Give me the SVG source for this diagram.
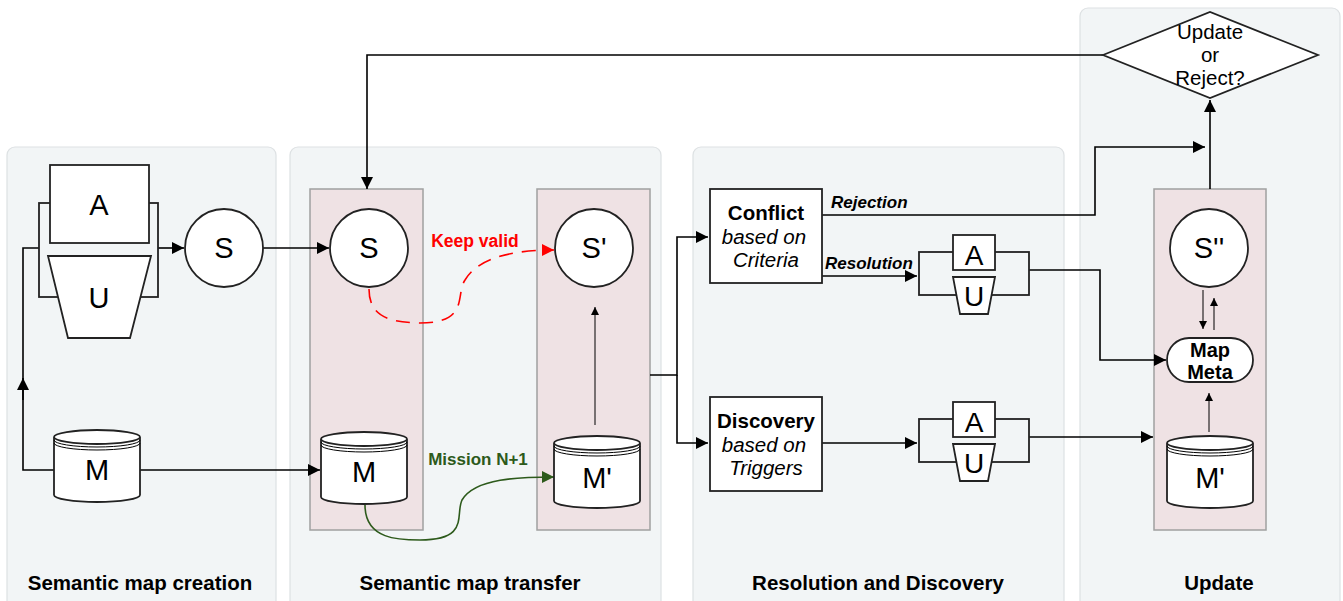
<svg xmlns="http://www.w3.org/2000/svg" width="1343" height="601" viewBox="0 0 1343 601">
<style>
.panel{fill:#f2f5f6;stroke:#dde1e3;stroke-width:1.2}
.pink{fill:#efe2e4;stroke:#a0a0a0;stroke-width:1.5}
.sh{fill:#fff;stroke:#222;stroke-width:1.8}
.ln{fill:none;stroke:#000;stroke-width:1.6}
.thin{fill:none;stroke:#000;stroke-width:1}
text{font-family:"Liberation Sans",Arial,sans-serif}
.big{font-size:29px;text-anchor:middle}
.title{font-size:20.5px;font-weight:bold;text-anchor:middle}
.box{font-size:20.5px;text-anchor:middle}
.lbl{font-size:17px;font-weight:bold;font-style:italic}
</style>
<defs>
<marker id="ar" viewBox="0 0 10 10" refX="10" refY="5" markerWidth="12" markerHeight="12" markerUnits="userSpaceOnUse" orient="auto"><path d="M0,0L10,5L0,10z" fill="#000"/></marker>
<marker id="ars" viewBox="0 0 10 10" refX="10" refY="5" markerWidth="8" markerHeight="8" markerUnits="userSpaceOnUse" orient="auto"><path d="M0,0L10,5L0,10z" fill="#000"/></marker>
<marker id="arr" viewBox="0 0 10 10" refX="10" refY="5" markerWidth="12" markerHeight="12" markerUnits="userSpaceOnUse" orient="auto"><path d="M0,0L10,5L0,10z" fill="#ff0000"/></marker>
<marker id="arg" viewBox="0 0 10 10" refX="10" refY="5" markerWidth="12" markerHeight="12" markerUnits="userSpaceOnUse" orient="auto"><path d="M0,0L10,5L0,10z" fill="#2d5a1b"/></marker>
</defs>

<g id="panels">
<rect class="panel" x="7" y="147" width="269" height="470" rx="8"/>
<rect class="panel" x="290" y="147" width="371" height="470" rx="8"/>
<rect class="panel" x="693" y="147" width="371" height="470" rx="8"/>
<rect class="panel" x="1080" y="8" width="260" height="610" rx="8"/>
<text class="title" x="140" y="590">Semantic map creation</text>
<text class="title" x="470" y="590">Semantic map transfer</text>
<text class="title" x="878" y="590">Resolution and Discovery</text>
<text class="title" x="1219" y="590">Update</text>
</g>

<g id="pinkRects">
<rect class="pink" x="310" y="189" width="113" height="341"/>
<rect class="pink" x="537" y="189" width="113" height="341"/>
<rect class="pink" x="1154" y="189" width="112" height="341"/>
</g>

<g id="connectors">
<path class="ln" d="M39,248H23V470H54"/>
<path class="ln" d="M23,400V378" marker-end="url(#ar)"/>
<path class="ln" d="M158,248H184" marker-end="url(#ar)"/>
<path class="ln" d="M263,248H329" marker-end="url(#ar)"/>
<path class="ln" d="M140,470H320" marker-end="url(#ar)"/>
<path class="ln" d="M1103,55H367V189" marker-end="url(#ar)"/>
<path d="M369,289C369,320 395,322 420,323C470,323 455,295 465,280C480,255 520,250 554,250" fill="none" stroke="#ff0000" stroke-width="1.6" stroke-dasharray="14,9" marker-end="url(#arr)"/>
<path d="M365,505C365,540 400,540 420,540C470,540 455,515 462,500C475,478 520,477 554,477" fill="none" stroke="#2d5a1b" stroke-width="1.6" marker-end="url(#arg)"/>
<path class="thin" d="M595,425V307" marker-end="url(#ars)"/>
<path class="ln" d="M650,375H677V237H708" marker-end="url(#ar)"/>
<path class="ln" d="M677,375V443H708" marker-end="url(#ar)"/>
<path class="ln" d="M822,215H1095V147H1205" marker-end="url(#ar)"/>
<path class="ln" d="M822,276H917" marker-end="url(#ar)"/>
<path class="ln" d="M822,443H917" marker-end="url(#ar)"/>
<path class="ln" d="M1029,270H1100V360H1166" marker-end="url(#ar)"/>
<path class="ln" d="M1029,437H1153" marker-end="url(#ar)"/>
<path class="ln" d="M1210,189V100" marker-end="url(#ar)"/>
<path class="thin" d="M1203,290V329" marker-end="url(#ars)"/>
<path class="thin" d="M1214,330V298" marker-end="url(#ars)"/>
<path class="thin" d="M1209,432V393" marker-end="url(#ars)"/>
<text x="475" y="247" font-size="17.5" font-weight="bold" fill="#ff0000" text-anchor="middle">Keep valid</text>
<text x="478" y="465" font-size="17" font-weight="bold" fill="#2d5a1b" text-anchor="middle">Mission N+1</text>
<text class="lbl" x="831" y="208">Rejection</text>
<text class="lbl" x="825" y="269">Resolution</text>
</g>

<g id="AU1">
<rect x="39" y="203" width="119" height="94" style="fill:none;stroke:#222;stroke-width:1.8"/>
<rect class="sh" x="50" y="165" width="99" height="78"/>
<text class="big" x="99" y="215">A</text>
<path class="sh" d="M48,256H151L130,338H68Z"/>
<text class="big" x="99" y="308">U</text>
</g>

<g id="S1"><circle class="sh" cx="224" cy="248" r="39"/><text class="big" x="224" y="258">S</text></g>

<g id="M1">
<path class="sh" d="M54,437V495A43,7 0 0 0 140,495V437A43,7 0 0 0 54,437A43,7 0 0 0 140,437"/>
<path class="thin" d="M54,440A43,7 0 0 0 140,440M54,443A43,7 0 0 0 140,443"/>
<text class="big" x="97" y="480">M</text>
</g>

<g id="S2"><circle class="sh" cx="369" cy="248" r="39"/><text class="big" x="369" y="258">S</text></g>
<g id="M2">
<path class="sh" d="M321,439V497A43,7 0 0 0 407,497V439A43,7 0 0 0 321,439A43,7 0 0 0 407,439"/>
<path class="thin" d="M321,442A43,7 0 0 0 407,442M321,445A43,7 0 0 0 407,445"/>
<text class="big" x="364" y="482">M</text>
</g>
<g id="S3"><circle class="sh" cx="594" cy="248" r="39"/><text class="big" x="594" y="258">S'</text></g>
<g id="M3">
<path class="sh" d="M554,443V501A43,7 0 0 0 640,501V443A43,7 0 0 0 554,443A43,7 0 0 0 640,443"/>
<path class="thin" d="M554,446A43,7 0 0 0 640,446M554,449A43,7 0 0 0 640,449"/>
<text class="big" x="597" y="488">M'</text>
</g>

<g id="conflict">
<rect class="sh" x="710" y="189" width="112" height="94"/>
<text class="box" x="766" y="220" font-weight="bold">Conflict</text>
<text class="box" x="764" y="244" font-style="italic">based on</text>
<text class="box" x="766" y="267" font-style="italic">Criteria</text>
</g>
<g id="discovery">
<rect class="sh" x="710" y="397" width="112" height="94"/>
<text class="box" x="766" y="428" font-weight="bold">Discovery</text>
<text class="box" x="764" y="452" font-style="italic">based on</text>
<text class="box" x="766" y="475" font-style="italic">Triggers</text>
</g>

<g id="AU2">
<rect x="919" y="252" width="110" height="43" style="fill:none;stroke:#222;stroke-width:1.8"/>
<rect class="sh" x="953" y="235" width="42" height="35"/>
<text x="974" y="265" font-size="28" text-anchor="middle">A</text>
<path class="sh" d="M953,277H995L988,314H960Z"/>
<text x="974" y="306" font-size="28" text-anchor="middle">U</text>
</g>
<g id="AU3">
<rect x="919" y="419" width="110" height="43" style="fill:none;stroke:#222;stroke-width:1.8"/>
<rect class="sh" x="953" y="402" width="42" height="35"/>
<text x="974" y="432" font-size="28" text-anchor="middle">A</text>
<path class="sh" d="M953,444H995L988,481H960Z"/>
<text x="974" y="473" font-size="28" text-anchor="middle">U</text>
</g>

<g id="S4"><circle class="sh" cx="1209" cy="248" r="39"/><text class="big" x="1209" y="258">S''</text></g>
<g id="mapmeta">
<rect class="sh" x="1167" y="338" width="86" height="44" rx="22"/>
<text x="1210" y="357" font-size="20" font-weight="bold" text-anchor="middle">Map</text>
<text x="1210" y="379" font-size="20" font-weight="bold" text-anchor="middle">Meta</text>
</g>
<g id="M4">
<path class="sh" d="M1167,443V501A43,7 0 0 0 1253,501V443A43,7 0 0 0 1167,443A43,7 0 0 0 1253,443"/>
<path class="thin" d="M1167,446A43,7 0 0 0 1253,446M1167,449A43,7 0 0 0 1253,449"/>
<text class="big" x="1210" y="488">M'</text>
</g>

<g id="decision">
<path class="sh" d="M1103,55L1210,12L1318,55L1210,98Z"/>
<text class="box" x="1210" y="39">Update</text>
<text class="box" x="1210" y="62">or</text>
<text class="box" x="1210" y="85">Reject?</text>
</g>
</svg>
